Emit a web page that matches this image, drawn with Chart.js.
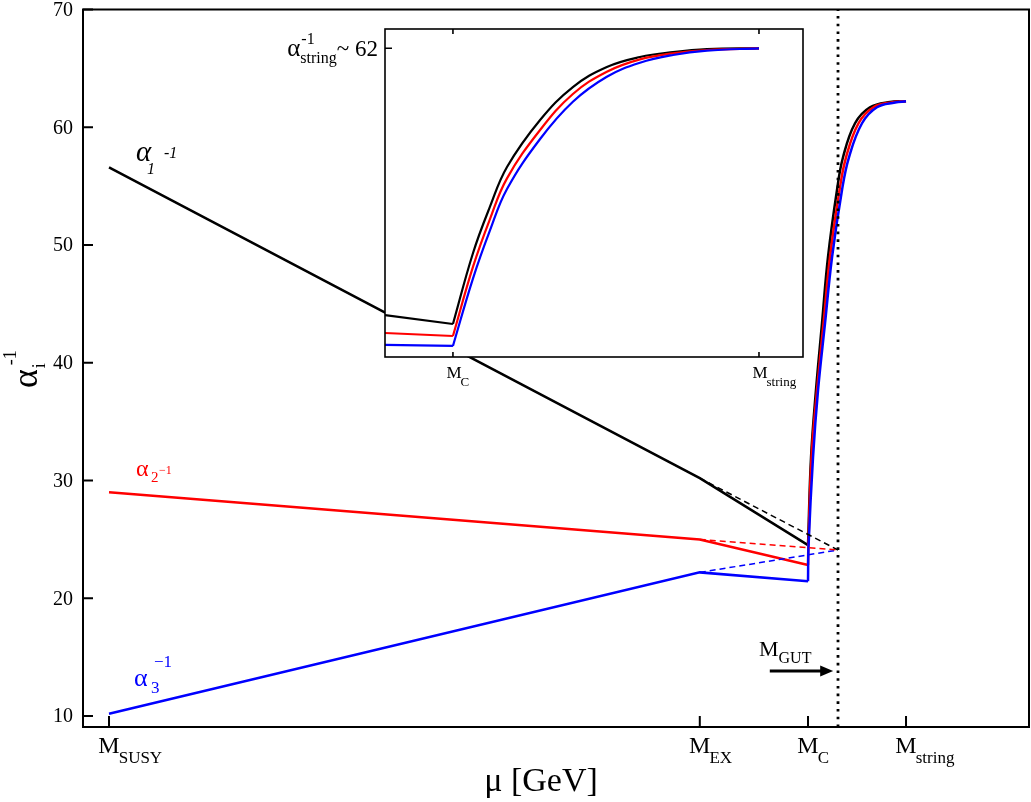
<!DOCTYPE html>
<html><head><meta charset="utf-8">
<script src="https://cdn.jsdelivr.net/npm/chart.js@4"></script>
<style>
html,body{margin:0;padding:0;background:#fff;}
#wrap{position:relative;width:1031px;height:802px;overflow:hidden;}
#main{position:absolute;left:0;top:0;}
#inset{position:absolute;left:270px;top:0;}
</style></head><body>
<div id="wrap"><canvas id="main" width="1031" height="802"></canvas><canvas id="inset" width="560" height="400"></canvas></div>
<script>
// ---- data (x in arbitrary log(mu) units) ----
const scaleNames = ['SUSY', 'EX', 'C', 'string'];
const scalePos = [2.75, 65.2, 76.64, 87.0];
const xGUT = 79.81;
const yTicks = [10, 20, 30, 40, 50, 60, 70];

const runX = [2.75, 65.2, 76.64];
const alpha1Run = [56.6, 30.2, 24.52];
const alpha2Run = [29.0, 25.0, 22.82];
const alpha3Run = [10.2, 22.2, 21.45];

const dashX = [65.2, 79.81];
const alpha1Dash = [30.2, 24.1];
const alpha2Dash = [25.0, 24.1];
const alpha3Dash = [22.2, 24.1];

const curve1X = [76.64, 76.96, 77.48, 78.12, 78.75, 79.70, 80.34, 81.61, 83.19, 85.31, 87.0];
const alpha1Curve = [24.52, 31.99, 37.67, 43.36, 48.96, 54.65, 57.45, 60.34, 61.70, 62.15, 62.2];
const curve2X = [76.64, 76.68, 77.01, 77.59, 78.28, 78.96, 79.97, 80.66, 81.98, 83.56, 85.57, 87.0];
const alpha2Curve = [22.82, 24.5, 31.99, 37.67, 43.36, 48.96, 54.65, 57.45, 60.34, 61.70, 62.12, 62.2];
const curve3X = [76.64, 76.70, 77.17, 77.70, 78.44, 79.18, 80.23, 80.97, 82.35, 83.93, 85.84, 87.0];
const alpha3Curve = [21.45, 24.5, 31.99, 37.67, 43.36, 48.96, 54.65, 57.45, 60.34, 61.70, 62.10, 62.2];

// inset
const insetRunX = [74.34, 76.64];
const inset1Run = [27.44, 26.28];
const inset2Run = [25.11, 24.72];
const inset3Run = [23.56, 23.43];
const insetCurveX = [76.64, 77.32, 77.89, 78.47, 79.59, 80.70, 81.85, 82.97, 84.09, 85.24, 87.0];
const inset1Curve = [26.28, 35.48, 41.44, 46.62, 52.71, 56.98, 59.58, 60.87, 61.52, 61.91, 62.0];
const inset2Curve = [24.72, 33.70, 39.84, 45.15, 51.41, 56.08, 58.97, 60.57, 61.35, 61.78, 62.0];
const inset3Curve = [23.43, 32.19, 38.37, 43.77, 50.25, 55.08, 58.32, 60.13, 61.13, 61.69, 62.0];
const alphaString = 62;

const arrowY = 13.82, arrowX0 = 72.6, arrowX1 = 79.3;

const BLACK = '#000000', RED = '#ff0000', BLUE = '#0000ff';
const SERIF = "'Liberation Serif', 'DejaVu Serif', serif";

function pts(xs, ys) { return xs.map((x, i) => ({x: x, y: ys[i]})); }
function lineDs(xs, ys, color, w, extra) {
  return Object.assign({data: pts(xs, ys), borderColor: color, borderWidth: w, pointRadius: 0,
    fill: false, tension: 0, showLine: true}, extra || {});
}
const SMOOTH = {tension: 0.4, cubicInterpolationMode: 'default'};

// ---- main chart ----
const mainPlugin = {
  id: 'mainDeco',
  afterDraw(chart) {
    const ctx = chart.ctx, a = chart.chartArea, xs = chart.scales.x, ys = chart.scales.y;
    ctx.save();
    ctx.strokeStyle = BLACK; ctx.lineWidth = 2;
    ctx.strokeRect(a.left, a.top, a.right - a.left, a.bottom - a.top);
    ctx.beginPath();
    yTicks.forEach(v => { const y = ys.getPixelForValue(v); ctx.moveTo(a.left, y); ctx.lineTo(a.left + 10, y); });
    scalePos.forEach(p => { const x = xs.getPixelForValue(p); ctx.moveTo(x, a.bottom); ctx.lineTo(x, a.bottom - 11); });
    ctx.stroke();

    // y tick labels
    ctx.fillStyle = BLACK;
    ctx.font = '20px ' + SERIF; ctx.textAlign = 'right'; ctx.textBaseline = 'middle';
    yTicks.forEach(v => { ctx.fillText(String(v), a.left - 10, ys.getPixelForValue(v) + 1); });

    // x tick labels with subscripts
    ctx.textBaseline = 'alphabetic';
    scaleNames.forEach((n, i) => {
      const x = xs.getPixelForValue(scalePos[i]);
      ctx.font = '24px ' + SERIF;
      const mw = ctx.measureText('M').width;
      ctx.textAlign = 'left';
      ctx.fillText('M', x - mw / 2, 753);
      ctx.font = '17px ' + SERIF;
      ctx.fillText(n, x + mw / 2 - 1, 763);
    });
    // x title
    ctx.font = '34px ' + SERIF; ctx.textAlign = 'center';
    ctx.fillText('\u03bc [GeV]', 541, 791);

    // y title (rotated)
    ctx.save();
    ctx.translate(37, 388); ctx.rotate(-Math.PI / 2);
    ctx.textAlign = 'left';
    ctx.font = '36px ' + SERIF;
    ctx.fillText('\u03b1', 0, 0);
    const aw = ctx.measureText('\u03b1').width;
    ctx.font = '18px ' + SERIF;
    ctx.fillText('i', aw + 1, 8);
    ctx.fillText('-1', aw + 4, -21);
    ctx.restore();

    // series labels
    ctx.textAlign = 'left';
    ctx.fillStyle = BLACK;
    ctx.font = 'italic 29px ' + SERIF; ctx.fillText('\u03b1', 136, 161);
    ctx.font = 'italic 16px ' + SERIF; ctx.fillText('1', 147, 174);
    ctx.font = 'italic 16px ' + SERIF; ctx.fillText('-1', 164, 158);

    ctx.fillStyle = RED;
    ctx.font = '24px ' + SERIF; ctx.fillText('\u03b1', 136, 476);
    ctx.font = '15px ' + SERIF; ctx.fillText('2', 151, 482);
    ctx.font = '12px ' + SERIF; ctx.fillText('\u22121', 159, 474);

    ctx.fillStyle = BLUE;
    ctx.font = '26px ' + SERIF; ctx.fillText('\u03b1', 134, 686);
    ctx.font = '17px ' + SERIF; ctx.fillText('3', 151, 693);
    ctx.font = '17px ' + SERIF; ctx.fillText('\u22121', 154, 667);

    // M_GUT arrow and label
    ctx.fillStyle = BLACK; ctx.strokeStyle = BLACK;
    const ay = ys.getPixelForValue(arrowY);
    const ax0 = xs.getPixelForValue(arrowX0), ax1 = xs.getPixelForValue(arrowX1);
    ctx.lineWidth = 3;
    ctx.beginPath(); ctx.moveTo(ax0, ay); ctx.lineTo(ax1 - 10, ay); ctx.stroke();
    ctx.beginPath(); ctx.moveTo(ax1, ay); ctx.lineTo(ax1 - 13, ay - 5.5); ctx.lineTo(ax1 - 13, ay + 5.5); ctx.closePath(); ctx.fill();
    ctx.font = '22px ' + SERIF; ctx.fillText('M', 759, 656);
    const mw2 = ctx.measureText('M').width;
    ctx.font = '16px ' + SERIF; ctx.fillText('GUT', 759 + mw2, 663);
    ctx.restore();
  }
};

new Chart(document.getElementById('main'), {
  type: 'scatter',
  data: {
    datasets: [
      lineDs(dashX, alpha1Dash, BLACK, 1.5, {borderDash: [6, 4]}),
      lineDs(dashX, alpha2Dash, RED, 1.5, {borderDash: [6, 4]}),
      lineDs(dashX, alpha3Dash, BLUE, 1.5, {borderDash: [6, 4]}),
      lineDs([xGUT, xGUT], [9.07, 70], BLACK, 2.8, {borderDash: [2.6, 5.1]}),
      lineDs(runX, alpha3Run, BLUE, 2.5),
      lineDs(curve3X, alpha3Curve, BLUE, 2.5, SMOOTH),
      lineDs(runX, alpha2Run, RED, 2.5),
      lineDs(curve2X, alpha2Curve, RED, 2.5, SMOOTH),
      lineDs(runX, alpha1Run, BLACK, 2.5),
      lineDs(curve1X, alpha1Curve, BLACK, 2.5, SMOOTH)
    ]
  },
  options: {
    responsive: false, animation: false, devicePixelRatio: 1,
    layout: {padding: {left: 83, top: 9.5, right: 2, bottom: 75}},
    plugins: {legend: {display: false}, tooltip: {enabled: false}},
    scales: {
      x: {type: 'linear', min: 0, max: 100, display: false},
      y: {type: 'linear', min: 9.07, max: 70, display: false}
    }
  },
  plugins: [mainPlugin]
});

// ---- inset chart ----
const insetPlugin = {
  id: 'insetDeco',
  beforeDatasetsDraw(chart) {
    const ctx = chart.ctx, a = chart.chartArea;
    ctx.save(); ctx.fillStyle = '#ffffff';
    ctx.fillRect(a.left, a.top, a.right - a.left, a.bottom - a.top);
    ctx.restore();
  },
  afterDraw(chart) {
    const ctx = chart.ctx, a = chart.chartArea, xs = chart.scales.x, ys = chart.scales.y;
    ctx.save();
    ctx.strokeStyle = BLACK; ctx.lineWidth = 1.6;
    ctx.strokeRect(a.left, a.top, a.right - a.left, a.bottom - a.top);
    ctx.beginPath();
    const y62 = ys.getPixelForValue(alphaString);
    ctx.moveTo(a.left, y62); ctx.lineTo(a.left + 7, y62);
    [scalePos[2], scalePos[3]].forEach(p => {
      const x = xs.getPixelForValue(p);
      ctx.moveTo(x, a.bottom); ctx.lineTo(x, a.bottom - 5);
      ctx.moveTo(x, a.top); ctx.lineTo(x, a.top + 5);
    });
    ctx.stroke();

    ctx.fillStyle = BLACK; ctx.textAlign = 'left'; ctx.textBaseline = 'alphabetic';
    [2, 3].forEach(i => {
      const x = xs.getPixelForValue(scalePos[i]);
      ctx.font = '17px ' + SERIF;
      const mw = ctx.measureText('M').width;
      ctx.fillText('M', x - mw / 2 + 1, 378);
      ctx.font = '13px ' + SERIF;
      ctx.fillText(scaleNames[i], x + mw / 2, 386);
    });

    // y label: alpha_string^-1 ~ 62
    ctx.font = '25px ' + SERIF; const wA = ctx.measureText('\u03b1').width;
    ctx.font = '16px ' + SERIF; const wS = ctx.measureText('string').width;
    ctx.font = '23px ' + SERIF; const wT = ctx.measureText('~ 62').width;
    const right = a.left - 7;
    const x0 = right - (wA + wS + wT);
    const base = y62 + 8;
    ctx.font = '25px ' + SERIF; ctx.fillText('\u03b1', x0, base);
    ctx.font = '16px ' + SERIF;
    ctx.fillText('string', x0 + wA, base + 7);
    ctx.fillText('-1', x0 + wA + 1, base - 12);
    ctx.font = '23px ' + SERIF; ctx.fillText('~ 62', x0 + wA + wS, base);
    ctx.restore();
  }
};

new Chart(document.getElementById('inset'), {
  type: 'scatter',
  data: {
    datasets: [
      lineDs(insetRunX, inset3Run, BLUE, 2.2),
      lineDs(insetCurveX, inset3Curve, BLUE, 2.2, SMOOTH),
      lineDs(insetRunX, inset2Run, RED, 2.2),
      lineDs(insetCurveX, inset2Curve, RED, 2.2, SMOOTH),
      lineDs(insetRunX, inset1Run, BLACK, 2.2),
      lineDs(insetCurveX, inset1Curve, BLACK, 2.2, SMOOTH)
    ]
  },
  options: {
    responsive: false, animation: false, devicePixelRatio: 1,
    layout: {padding: {left: 115, top: 29, right: 27, bottom: 43}},
    plugins: {legend: {display: false}, tooltip: {enabled: false}},
    scales: {
      x: {type: 'linear', min: 74.34, max: 88.49, display: false},
      y: {type: 'linear', min: 22, max: 64.5, display: false}
    }
  },
  plugins: [insetPlugin]
});
</script>
</body></html>
